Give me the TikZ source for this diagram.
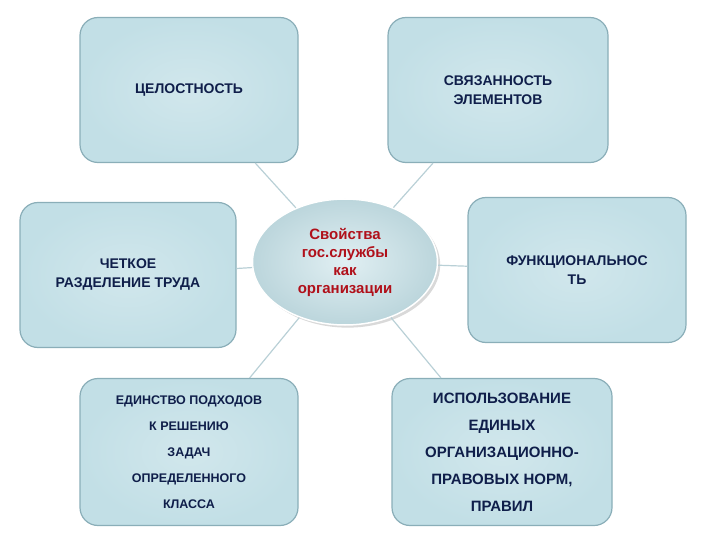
\documentclass[tikz,border=0pt]{standalone}
\usepackage{fontspec}
\setmainfont{Liberation Sans}
\usetikzlibrary{shapes.geometric,shadows}
\definecolor{boxfill}{HTML}{C2DFE6}
\definecolor{boxline}{HTML}{8AAEB8}
\definecolor{txt}{HTML}{0F1E4A}
\definecolor{conn}{HTML}{B9D0D6}
\definecolor{redtxt}{HTML}{B0101A}
\begin{document}
\begin{tikzpicture}[x=1pt,y=-1pt,
  pbox/.style={draw=boxline,line width=1.2pt,rounded corners=18pt,inner color=white!25!boxfill,outer color=boxfill,text=txt,align=center,font=\bfseries\fontsize{14}{19}\selectfont},
  conline/.style={draw=conn,line width=1.2pt}]
\useasboundingbox (0,0) rectangle (720,540);
\node[pbox,minimum width=218pt,minimum height=145pt] (b1) at (189,90) {ЦЕЛОСТНОСТЬ};
\node[pbox,minimum width=220pt,minimum height=145pt] (b2) at (498,90) {СВЯЗАННОСТЬ\\ЭЛЕМЕНТОВ};
\node[pbox,minimum width=216pt,minimum height=145pt] (b3) at (128,275) {ЧЕТКОЕ\\РАЗДЕЛЕНИЕ ТРУДА};
\node[pbox,minimum width=218pt,minimum height=145pt] (b4) at (577,270) {ФУНКЦИОНАЛЬНОС\\ТЬ};
\node[pbox,minimum width=218pt,minimum height=147pt,font=\bfseries\fontsize{12.5}{26}\selectfont] (b5) at (189,452) {ЕДИНСТВО ПОДХОДОВ\\К РЕШЕНИЮ\\ЗАДАЧ\\ОПРЕДЕЛЕННОГО\\КЛАССА};
\node[pbox,minimum width=220pt,minimum height=147pt,font=\bfseries\fontsize{15}{27}\selectfont] (b6) at (502,452) {ИСПОЛЬЗОВАНИЕ\\ЕДИНЫХ\\ОРГАНИЗАЦИОННО-\\ПРАВОВЫХ НОРМ,\\ПРАВИЛ};
\node[ellipse,draw=white,line width=1.5pt,inner color=white!50!boxfill,outer color=boxfill!90!gray,drop shadow={opacity=0.3},minimum width=185pt,minimum height=126pt,text=redtxt,align=center,font=\bfseries\fontsize{15}{18}\selectfont] (c) at (345,262) {Свойства\\гос.службы\\как\\организации};
\draw[conline] (c) -- (b1);
\draw[conline] (c) -- (b2);
\draw[conline] (c) -- (b3);
\draw[conline] (c) -- (b4);
\draw[conline] (c) -- (b5);
\draw[conline] (c) -- (b6);
\end{tikzpicture}
\end{document}
